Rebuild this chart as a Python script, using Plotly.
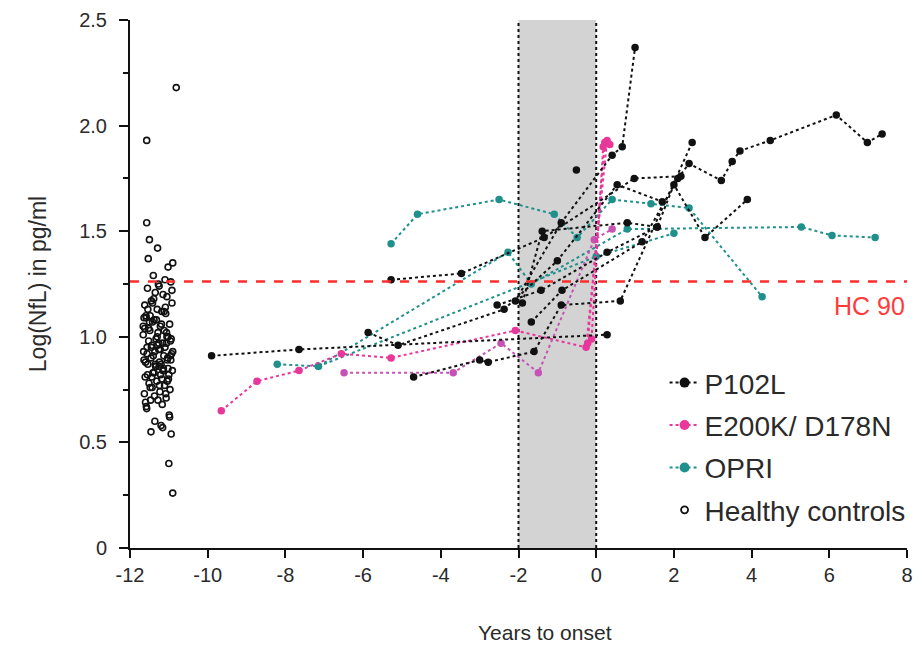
import plotly.graph_objects as go

# ---------------- data ----------------
p102l_tracks = [
    ([-9.9, -7.65, 0.28], [0.91, 0.94, 1.01]),
    ([-5.28, -3.47, -1.34, 0.98, 2.18], [1.27, 1.30, 1.47, 1.75, 1.76]),
    ([-5.87, -5.1, -2.37, -1.0, 0.54, 1.7], [1.02, 0.96, 1.13, 1.36, 1.72, 1.64]),
    ([-4.7, -3.0, -2.78, -1.6, -0.9, 0.62, 2.47], [0.81, 0.89, 0.88, 0.93, 1.15, 1.17, 1.92]),
    ([-1.67, -0.88, 1.18, 2.1, 2.39, 3.22, 3.5, 3.7, 4.48, 6.18, 6.98, 7.36],
     [1.07, 1.22, 1.45, 1.75, 1.82, 1.74, 1.83, 1.88, 1.93, 2.05, 1.92, 1.96]),
    ([-2.55, -1.42, 0.28, 1.57, 2.0, 2.8, 3.89], [1.15, 1.22, 1.40, 1.52, 1.72, 1.47, 1.65]),
    ([-2.08, -0.9, 0.41, 0.67, 1.0], [1.17, 1.54, 1.86, 1.90, 2.37]),
    ([-1.9, -1.39, 0.8, 1.57], [1.16, 1.50, 1.54, 1.52]),
    ([-0.51], [1.79]),
]

e200k_tracks = [
    ([-9.65, -8.73, -7.65, -6.56, -5.28, -2.08, -0.26, 0.28],
     [0.65, 0.79, 0.84, 0.92, 0.90, 1.03, 0.95, 1.93]),
    ([-0.22, 0.22, 0.35], [0.97, 1.92, 1.91]),
    ([-0.12, 0.18], [0.99, 1.90]),
]
d178n_track = ([-6.49, -3.68, -2.45, -1.49, -0.05, 0.41], [0.83, 0.83, 0.97, 0.83, 1.46, 1.51])

opri_tracks = [
    ([-5.28, -4.6, -2.5, -1.08, -0.49, 0.41, 1.41, 2.39, 4.27],
     [1.44, 1.58, 1.65, 1.58, 1.47, 1.65, 1.63, 1.61, 1.19]),
    ([-8.21, -7.15, -2.27, -1.67, 0.8, 5.28, 6.07, 7.18],
     [0.87, 0.86, 1.40, 1.25, 1.51, 1.52, 1.48, 1.47]),
    ([-7.15, 0.0, 2.0], [0.86, 1.38, 1.49]),
]

hc_x = [
    -10.81, -11.57, -11.57, -11.50, -11.29, -11.53, -10.90, -11.02, -11.60, -11.20, -10.94, -11.00, -10.90,
    -11.40, -11.10, -10.95, -11.25, -11.55, -11.35, -11.05, -11.15, -11.45, -11.62, -10.92, -11.30,
    -11.18, -11.48, -11.08, -11.38, -11.58, -10.98, -11.22, -11.42, -11.12, -11.52, -11.28, -11.02,
    -11.66, -11.33, -10.96, -11.16, -11.44, -11.06, -11.26, -11.56, -11.36, -10.93, -11.13, -11.46,
    -11.64, -11.24, -11.04, -11.34, -11.54, -11.14, -10.91, -11.41, -11.21, -11.61, -11.01, -11.31,
    -11.51, -11.11, -11.43, -10.97, -11.23, -11.63, -11.37, -11.07, -11.47, -11.17, -11.57, -10.99,
    -11.27, -11.39, -11.09, -11.59, -11.19, -11.49, -10.94, -11.29, -11.65, -11.03, -11.35, -11.15,
    -11.55, -11.25, -10.96, -11.45, -11.05, -11.62, -11.32, -11.12, -11.42, -10.92, -11.52, -11.22,
    -11.60, -11.02, -11.38, -11.18, -11.48, -11.08, -11.28, -11.58, -10.98, -11.36, -11.16, -11.46,
    -11.66, -11.06, -11.26, -11.56, -10.95, -11.34, -11.14, -11.44, -11.04, -11.24, -11.64, -11.54,
    -11.10, -11.40, -11.20, -10.90, -11.30, -11.50, -11.00,
]
hc_y = [
    2.18, 1.93, 1.54, 1.46, 1.42, 1.37, 1.35, 1.33, 0.69, 0.58, 0.54, 0.40, 0.26,
    1.29, 1.27, 1.26, 1.24, 1.23, 1.21, 1.19, 1.20, 1.17, 1.15, 1.16, 1.13,
    1.12, 1.10, 1.11, 1.08, 1.09, 1.06, 1.05, 1.07, 1.03, 1.04, 1.02, 1.00,
    1.01, 0.99, 0.98, 0.97, 0.96, 0.97, 0.94, 0.95, 0.93, 0.92, 0.91, 0.90,
    0.89, 0.88, 0.89, 0.86, 0.87, 0.85, 0.84, 0.83, 0.82, 0.81, 0.80, 0.79,
    0.78, 0.77, 0.76, 0.75, 0.74, 0.73, 0.72, 0.71, 0.70, 0.68, 0.66, 0.63,
    1.25, 1.18, 1.14, 1.10, 1.06, 1.03, 0.99, 0.96, 0.93, 0.90, 0.87, 0.84,
    0.82, 0.86, 0.91, 0.95, 1.00, 1.04, 1.08, 1.12, 1.16, 1.22, 0.98, 0.94,
    0.88, 0.85, 0.83, 0.80, 0.76, 0.73, 0.70, 0.67, 0.62, 0.60, 0.57, 0.55,
    1.05, 1.02, 0.97, 0.92, 0.89, 0.86, 0.84, 0.81, 0.79, 0.77, 1.09, 1.13,
    0.95, 0.91, 0.87, 0.93, 1.00, 1.07, 0.82, 0.78, 0.74, 0.97, 1.03, 0.85,
    1.19, 0.90, 0.88, 0.96, 1.01, 0.80, 0.72,
]

hc90 = 1.262
onset_window = [-2, 0]
x_ticks = [-12, -10, -8, -6, -4, -2, 0, 2, 4, 6, 8]
x_tick_labels = ["-12", "-10", "-8", "-6", "-4", "-2", "0", "2", "4", "6", "8"]
y_ticks = [0, 0.5, 1.0, 1.5, 2.0, 2.5]
y_tick_labels = ["0", "0.5", "1.0", "1.5", "2.0", "2.5"]

# ---------------- styles ----------------
BLACK = "#111111"
PINK = "#E8369A"
PURPLE = "#C553B5"
TEAL = "#20908C"
TEXT = "#2a2a2a"
FONT = "Liberation Sans, Arial, sans-serif"

fig = go.Figure()


def add_track(xs, ys, color, name, group):
    fig.add_trace(go.Scatter(
        x=xs, y=ys, mode="lines+markers",
        line=dict(color=color, width=2, dash="dot"),
        marker=dict(color=color, size=7.5),
        name=name, legendgroup=group, showlegend=False,
    ))


for xs, ys in opri_tracks:
    add_track(xs, ys, TEAL, "OPRI", "c")
add_track(d178n_track[0], d178n_track[1], PURPLE, "E200K/ D178N", "b")
for xs, ys in e200k_tracks:
    add_track(xs, ys, PINK, "E200K/ D178N", "b")
for xs, ys in p102l_tracks:
    add_track(xs, ys, BLACK, "P102L", "a")

fig.add_trace(go.Scatter(
    x=hc_x, y=hc_y, mode="markers",
    marker=dict(symbol="circle-open", color=BLACK, size=6, line=dict(width=1.6)),
    name="Healthy controls", legendgroup="d", showlegend=False,
))

# legend entries (one per group)
for name, color, grp in [("P102L", BLACK, "a"), ("E200K/ D178N", PINK, "b"), ("OPRI", TEAL, "c")]:
    fig.add_trace(go.Scatter(
        x=[None], y=[None], mode="lines+markers",
        line=dict(color=color, width=2, dash="dot"),
        marker=dict(color=color, size=10),
        name=name, legendgroup=grp, showlegend=True,
    ))
fig.add_trace(go.Scatter(
    x=[None], y=[None], mode="markers",
    marker=dict(symbol="circle-open", color=BLACK, size=7, line=dict(width=1.8)),
    name="Healthy controls", legendgroup="d", showlegend=True,
))

# onset window and HC 90 line
fig.add_shape(type="rect", xref="x", yref="paper", x0=onset_window[0], x1=onset_window[1],
              y0=0, y1=1, fillcolor="#D3D3D3", line=dict(width=0), layer="below")
for xv in onset_window:
    fig.add_shape(type="line", xref="x", yref="paper", x0=xv, x1=xv, y0=0, y1=1,
                  line=dict(color=BLACK, width=2, dash="dot"), layer="below")
fig.add_shape(type="line", xref="paper", yref="y", x0=0, x1=1, y0=hc90, y1=hc90,
              line=dict(color="#FF2E2E", width=2.5, dash="dash"), layer="above")
fig.add_annotation(x=8.0, y=1.145, xref="x", yref="y", text="HC 90", showarrow=False,
                   xanchor="right", yanchor="middle",
                   font=dict(family=FONT, size=25, color="#FF3B3B"))
fig.add_annotation(x=0.534, y=-0.16, xref="paper", yref="paper", text="Years to onset",
                   showarrow=False, xanchor="center", yanchor="middle",
                   font=dict(family=FONT, size=21, color=TEXT))

# page body adds an 8px margin, so the figure is 8px smaller and margins shifted
fig.update_layout(
    width=914, height=639,
    margin=dict(l=122, r=15, t=12, b=99, autoexpand=False),
    plot_bgcolor="white", paper_bgcolor="white",
    font=dict(family=FONT, color=TEXT),
    showlegend=True,
    legend=dict(x=0.688, y=0.36, xanchor="left", yanchor="top",
                font=dict(family=FONT, size=28, color=TEXT),
                tracegroupgap=3, bgcolor="rgba(0,0,0,0)", itemwidth=30),
    xaxis=dict(range=[-12, 8], tickvals=x_ticks, ticktext=x_tick_labels, showline=True,
               linecolor=BLACK, linewidth=2, ticklabeloverflow="allow",
               ticks="outside", ticklen=8, tickwidth=2, tickcolor=BLACK, showgrid=False,
               zeroline=False, tickfont=dict(size=20, color=TEXT), automargin=False),
    yaxis=dict(range=[0, 2.5], tickvals=y_ticks, ticktext=y_tick_labels, showline=True,
               linecolor=BLACK, linewidth=2, ticks="outside", ticklen=9, tickwidth=2,
               tickcolor=BLACK, showgrid=False, zeroline=False, tickfont=dict(size=20, color=TEXT),
               ticklabelstandoff=8, automargin=False, ticklabeloverflow="allow",
               minor=dict(dtick=0.25, ticks="outside", ticklen=5, tickwidth=2, tickcolor=BLACK),
               title=dict(text="Log(NfL) in pg/ml", font=dict(size=23, color=TEXT), standoff=26)),
)

fig.write_html("out.html")
